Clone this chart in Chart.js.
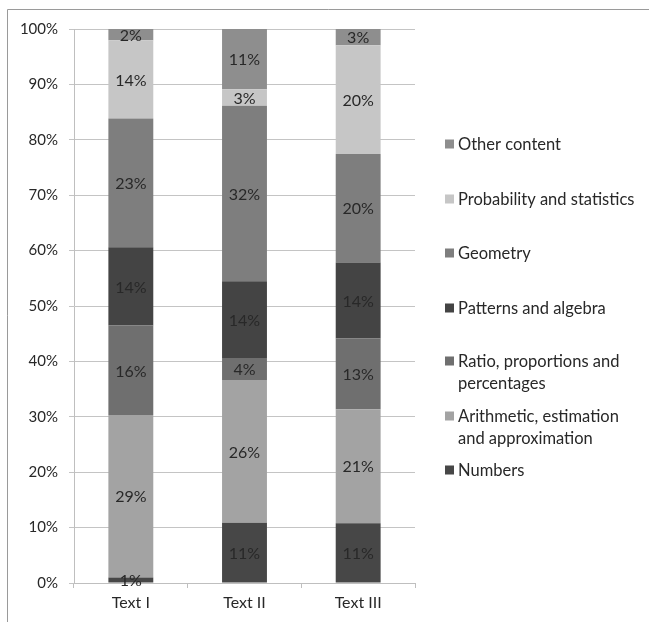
<!DOCTYPE html>
<html>
<head>
<meta charset="utf-8">
<script src="https://cdn.jsdelivr.net/npm/chart.js@4"></script>
<style>
  html, body { margin: 0; padding: 0; background: #fff; }
  #wrap { width: 649px; height: 622px; }
</style>
</head>
<body>
<div id="wrap"><canvas id="myChart" width="649" height="622"></canvas></div>
<script>
const texts = ['Text I', 'Text II', 'Text III'];

// series, bottom of the stack first
const seriesNames = [
    'Numbers',
    'Arithmetic, estimation and approximation',
    'Ratio, proportions and percentages',
    'Patterns and algebra',
    'Geometry',
    'Probability and statistics',
    'Other content'
];
const numbers     = [1, 11, 11];
const arithmetic  = [29, 26, 21];
const ratio       = [16, 4, 13];
const patterns    = [14, 14, 14];
const geometry    = [23, 32, 20];
const probability = [14, 3, 20];
const other       = [2, 11, 3];

const yTicks = [0, 10, 20, 30, 40, 50, 60, 70, 80, 90, 100];

const seriesValues = [numbers, arithmetic, ratio, patterns, geometry, probability, other];
const seriesColors = ['#474747', '#a3a3a3', '#6f6f6f', '#444444', '#7e7e7e', '#c6c6c6', '#8e8e8e'];

// 100% stacked: each column is scaled to its own total
const totals = texts.map((t, i) => seriesValues.reduce((s, arr) => s + arr[i], 0));

const FONT = 'Lato, "Open Sans", sans-serif';
const INK = '#282828';

const datasets = seriesNames.map((name, k) => ({
    label: name,
    raw: seriesValues[k],
    data: seriesValues[k].map((v, i) => v / totals[i] * 100),
    backgroundColor: seriesColors[k],
    borderWidth: 0,
    barPercentage: 0.395,
    categoryPercentage: 1
}));

// outer frame, value labels and the right-hand legend
const decor = {
    id: 'decor',
    beforeDraw(chart) {
        const c = chart.ctx;
        c.save();
        c.strokeStyle = '#9a9a9a';
        c.lineWidth = 1;
        c.beginPath();
        c.moveTo(7.5, 622);
        c.lineTo(7.5, 9.5);
        c.lineTo(649, 9.5);
        c.stroke();
        c.restore();
    },
    afterDatasetsDraw(chart) {
        const c = chart.ctx;
        c.save();
        c.font = '16px ' + FONT;
        c.fillStyle = INK;
        c.textAlign = 'center';
        c.textBaseline = 'middle';
        chart.data.datasets.forEach((ds, k) => {
            chart.getDatasetMeta(k).data.forEach((bar, i) => {
                c.fillText(ds.raw[i] + '%', bar.x, (bar.y + bar.base) / 2 + 1);
            });
        });
        c.restore();
    },
    afterDraw(chart) {
        const c = chart.ctx;
        const rowY = [144, 199, 253, 308, 361, 416, 470];
        const x0 = 445, tx = 458, maxW = 182, lineH = 22;
        c.save();
        c.font = '16.5px ' + FONT;
        c.textBaseline = 'middle';
        c.textAlign = 'left';
        const ds = chart.data.datasets.slice().reverse();
        ds.forEach((d, r) => {
            const words = d.label.split(' ');
            const lines = [];
            let cur = '';
            words.forEach(w => {
                const test = cur ? cur + ' ' + w : w;
                if (cur && c.measureText(test).width > maxW) {
                    lines.push(cur);
                    cur = w;
                } else {
                    cur = test;
                }
            });
            lines.push(cur);
            const y = rowY[r];
            c.fillStyle = d.backgroundColor;
            c.fillRect(x0, y - 4.5, 9, 9);
            c.fillStyle = INK;
            lines.forEach((ln, j) => c.fillText(ln, tx, y + j * lineH + 1));
        });
        c.restore();
    }
};

const ctx = document.getElementById('myChart').getContext('2d');

const chart = new Chart(ctx, {
    type: 'bar',
    data: { labels: texts, datasets: datasets },
    options: {
        responsive: false,
        animation: false,
        devicePixelRatio: 1,
        layout: { padding: { left: 0, top: 29, right: 234, bottom: 0 } },
        plugins: {
            legend: { display: false },
            tooltip: { enabled: false }
        },
        scales: {
            x: {
                stacked: true,
                afterFit: s => { s.height = 39; },
                grid: { drawOnChartArea: false, drawTicks: true, tickLength: 5, color: '#bfbfbf' },
                border: { color: '#bfbfbf' },
                ticks: { color: INK, font: { family: FONT, size: 16 }, padding: 5 }
            },
            y: {
                stacked: true,
                min: 0,
                max: 100,
                afterFit: s => { s.width = 74; },
                afterBuildTicks: s => { s.ticks = yTicks.map(v => ({ value: v })); },
                grid: { color: '#c4c4c4', tickLength: 5 },
                border: { color: '#bfbfbf' },
                ticks: {
                    color: INK,
                    font: { family: FONT, size: 15 },
                    padding: 11,
                    callback: v => v + '%'
                }
            }
        }
    },
    plugins: [decor]
});
</script>
</body>
</html>
